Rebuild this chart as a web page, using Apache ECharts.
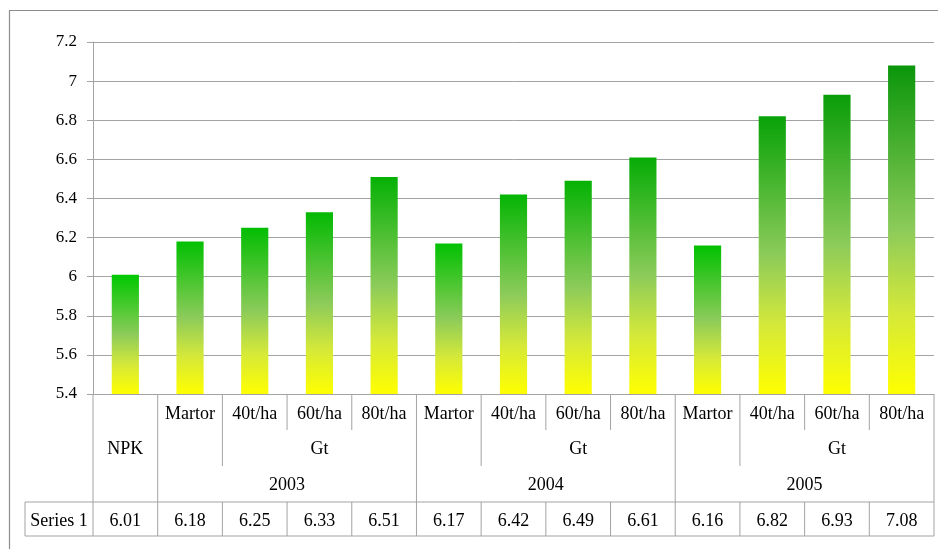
<!DOCTYPE html>
<html><head><meta charset="utf-8">
<script src="https://cdn.jsdelivr.net/npm/echarts@6/dist/echarts.min.js"></script>
<style>html,body{margin:0;padding:0;background:#fff;}#c{width:938px;height:549px;}</style>
</head><body><div id="c"></div>
<script>
const level1Labels = ['', 'Martor','40t/ha','60t/ha','80t/ha','Martor','40t/ha','60t/ha','80t/ha','Martor','40t/ha','60t/ha','80t/ha'];
const level2Labels = ['NPK','Gt','Gt','Gt'];
const level2Start = [0,2,6,10];
const level2End = [0,4,8,12];
const yearLabels = ['2003','2004','2005'];
const yearStart = [1,5,9];
const yearEnd = [4,8,12];
const seriesName = 'Series 1';
const values = [6.01,6.18,6.25,6.33,6.51,6.17,6.42,6.49,6.61,6.16,6.82,6.93,7.08];
const yTicks = {min:5.4, max:7.2, interval:0.2};

const FONT = '"Liberation Serif","DejaVu Serif",serif';
const LINE = '#a3a3a3';
const chart = echarts.init(document.getElementById('c'), null, {renderer:'canvas'});

function lerp(a,b,t){return Math.round(a+(b-a)*t);}
const vmin = Math.min(...values), vmax = Math.max(...values);
const dataItems = values.map(v => {
  const t = (v - vmin)/(vmax - vmin);
  const top = 'rgb(' + lerp(0,10,t) + ',' + lerp(200,150,t) + ',' + lerp(0,10,t) + ')';
  return {value:v, itemStyle:{color:new echarts.graphic.LinearGradient(0,0,0,1,[
    {offset:0,color:top},{offset:0.5,color:'#8ccb5a'},{offset:0.75,color:'#d4e83a'},{offset:1,color:'#ffff00'}])}};
});

chart.setOption({
  animation:false,
  grid:{left:93,right:4,top:42,bottom:155,containLabel:false},
  xAxis:{type:'category',data:level1Labels.map((l,i)=>String(i)),
    axisLine:{lineStyle:{color:LINE}},axisTick:{show:false},axisLabel:{show:false},splitLine:{show:false}},
  yAxis:{type:'value',min:yTicks.min,max:yTicks.max,interval:yTicks.interval,
    axisLine:{show:true,lineStyle:{color:LINE}},
    axisTick:{show:true,length:6,lineStyle:{color:LINE}},
    axisLabel:{color:'#000',fontFamily:FONT,fontSize:17,margin:16,
      formatter:v=>String(Math.round(v*10)/10)},
    splitLine:{lineStyle:{color:LINE,width:1}}},
  series:[{type:'bar',name:seriesName,data:dataItems,barWidth:'42%'}]
});

// Build the data table from axis pixel positions
const c0 = chart.convertToPixel({xAxisIndex:0}, 0);
const c1 = chart.convertToPixel({xAxisIndex:0}, 1);
const band = c1 - c0;
const bound = i => c0 - band/2 + i*band;
const n = values.length;
const yAxisPx = chart.convertToPixel({yAxisIndex:0}, yTicks.min);
const rowL1 = yAxisPx + 20, rowL2 = yAxisPx + 55, rowYr = yAxisPx + 91;
const shortEnd = yAxisPx + 36, midEnd = yAxisPx + 72, catEnd = yAxisPx + 108, dataEnd = yAxisPx + 142;
const dataMid = (catEnd + dataEnd)/2 + 2;
const labelLeft = 25;

const yearOf = level1Labels.map((_, i) => {
  for (let g=0; g<yearStart.length; g++) if (i>=yearStart[g] && i<=yearEnd[g]) return g;
  return -1 - i;
});
const l2Of = level1Labels.map((_, i) => {
  for (let g=0; g<level2Start.length; g++) if (i>=level2Start[g] && i<=level2End[g]) return g;
  return -100 - i;
});

const els = [];
const line = (x1,y1,x2,y2) => els.push({type:'line',shape:{x1,y1,x2,y2},style:{stroke:LINE,lineWidth:1},silent:true});
const text = (x,y,s) => els.push({type:'text',x,y,style:{text:s,fill:'#000',font:'18px '+FONT,textAlign:'center',textVerticalAlign:'middle'},silent:true});

// outer chart border
els.push({type:'rect',shape:{x:9.5,y:10.5,width:960,height:600},style:{fill:null,stroke:'#8c8c8c',lineWidth:1.2},silent:true});

// horizontal lines
line(labelLeft, catEnd, bound(n), catEnd);
line(labelLeft, dataEnd, bound(n), dataEnd);
line(labelLeft, catEnd, labelLeft, dataEnd);
line(bound(0), yAxisPx, bound(0), dataEnd);
for (let i=1; i<=n; i++) {
  let end;
  if (i === n || yearOf[i] !== yearOf[i-1]) end = catEnd;
  else if (l2Of[i] !== l2Of[i-1]) end = midEnd;
  else end = shortEnd;
  line(bound(i), yAxisPx, bound(i), end);
  line(bound(i), catEnd, bound(i), dataEnd);
}
// texts
level1Labels.forEach((s,i) => { if (s) text(bound(i)+band/2, rowL1, s); });
level2Labels.forEach((s,g) => text((bound(level2Start[g]) + bound(level2End[g]+1))/2, rowL2, s));
yearLabels.forEach((s,g) => text((bound(yearStart[g]) + bound(yearEnd[g]+1))/2, rowYr, s));
values.forEach((v,i) => text(bound(i)+band/2, dataMid, v.toFixed(2)));
text((labelLeft + bound(0))/2, dataMid, seriesName);

chart.setOption({graphic:{elements:els}});
</script></body></html>
